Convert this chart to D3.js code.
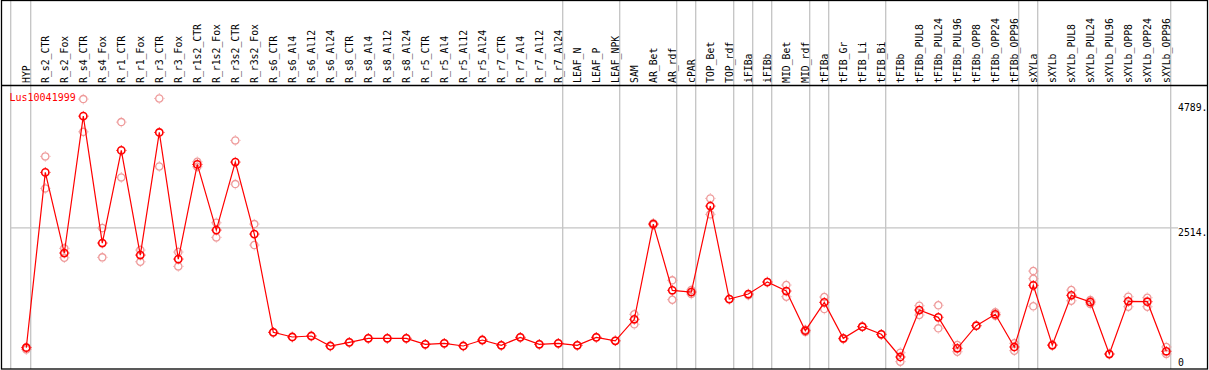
<!DOCTYPE html>
<html>
<head>
<meta charset="utf-8">
<script src="https://cdn.jsdelivr.net/npm/d3@7"></script>
<style>
  html, body { margin: 0; padding: 0; background: #fff; }
  svg { display: block; }
  text { font-family: "DejaVu Sans Mono", monospace; font-size: 9.8px; }
</style>
</head>
<body>
<svg id="chart" width="1209" height="370"></svg>
<script>
const seriesName = "Lus10041999";

const categories = [
  "HYP","R_s2_CTR","R_s2_Fox","R_s4_CTR","R_s4_Fox","R_r1_CTR","R_r1_Fox","R_r3_CTR","R_r3_Fox",
  "R_r1s2_CTR","R_r1s2_Fox","R_r3s2_CTR","R_r3s2_Fox","R_s6_CTR","R_s6_Al4","R_s6_Al12","R_s6_Al24",
  "R_s8_CTR","R_s8_Al4","R_s8_Al12","R_s8_Al24","R_r5_CTR","R_r5_Al4","R_r5_Al12","R_r5_Al24",
  "R_r7_CTR","R_r7_Al4","R_r7_Al12","R_r7_Al24","LEAF_N","LEAF_P","LEAF_NPK","SAM","AR_Bet","AR_rdf",
  "cPAR","TOP_Bet","TOP_rdf","iFIBa","iFIBb","MID_Bet","MID_rdf","tFIBa","tFIB_Gr","tFIB_Li","tFIB_Bi",
  "tFIBb","tFIBb_PUL8","tFIBb_PUL24","tFIBb_PUL96","tFIBb_OPP8","tFIBb_OPP24","tFIBb_OPP96",
  "sXYLa","sXYLb","sXYLb_PUL8","sXYLb_PUL24","sXYLb_PUL96","sXYLb_OPP8","sXYLb_OPP24","sXYLb_OPP96"
];

const means = [
  333, 3525, 2057, 4550, 2239, 3926, 2020, 4253, 1947,
  3671, 2475, 3713, 2402, 613, 528, 546, 364,
  431, 504, 504, 504, 395, 413, 364, 473,
  377, 522, 395, 413, 377, 522, 458, 850, 2584, 1378,
  1347, 2912, 1219, 1310, 1529, 1365, 643, 1159, 504, 716, 577,
  164, 1019, 886, 322, 734, 941, 346,
  1469, 377, 1287, 1165, 218, 1178, 1171, 268
];

const replicates = [
  [300, 340], [3817, 3234], [2142, 1971], [4860, 4264], [2512, 1978], [4441, 3434], [2111, 1898], [4872, 3634], [2075, 1814],
  [3718, 3627], [2608, 2342], [4108, 3312], [2584, 2202], [613], [528], [546], [364],
  [431], [504], [504], [504], [395], [413], [364], [473],
  [377], [522], [395], [413], [377], [522], [458], [941, 759], [2600, 2570], [1560, 1207],
  [1310, 1383], [3052, 2761], [1219], [1290], [1529], [1474, 1262], [660, 620], [1256, 1037], [490], [716], [577],
  [243, 79], [1098, 928], [1105, 686], [382, 260], [734], [977, 915], [413, 279],
  [1729, 1589, 1087], [390], [1383, 1188], [1201, 1128], [218], [1262, 1079], [1243, 1079], [346, 218]
];

const yTicks = [0, 2514, 4789];
const yTickLabels = ["0", "2514.", "4789."];
const groupEnds = ["HYP","R_r7_Al24","LEAF_NPK","AR_rdf","cPAR","TOP_rdf","iFIBa","iFIBb","MID_rdf","tFIBa","tFIB_Bi","tFIBb_OPP96","sXYLa","sXYLb_OPP96"];

const svg = d3.select("#chart");

const x = d3.scalePoint().domain(categories).range([26.3, 26.3 + 19 * (categories.length - 1)]);
const y = d3.scaleLinear().domain([0, 4789]).range([366, 103]);

const grey = "#c4c4c4";
const lightRed = "#ee9a9a";

// vertical group separators
const sepXs = [x(categories[0]) - 15.6].concat(groupEnds.map(c => x(c) + 4.4));
svg.append("g").selectAll("line").data(sepXs).join("line")
  .attr("x1", d => d).attr("x2", d => d).attr("y1", 0).attr("y2", 369)
  .attr("stroke", grey).attr("stroke-width", 1.3);

// horizontal mid grid line
svg.append("line")
  .attr("x1", sepXs[0]).attr("x2", 1178)
  .attr("y1", y(yTicks[1])).attr("y2", y(yTicks[1]))
  .attr("stroke", grey).attr("stroke-width", 1.3);

// frame
svg.append("rect").attr("x", 1.5).attr("y", 0.5).attr("width", 1206).attr("height", 368.5)
  .attr("fill", "none").attr("stroke", "#000").attr("stroke-width", 1.3);
svg.append("line").attr("x1", 1).attr("x2", 1208).attr("y1", 85.5).attr("y2", 85.5)
  .attr("stroke", "#000").attr("stroke-width", 1.3);

// header labels (reading upwards, starting just above the separator)
svg.append("g").selectAll("text").data(categories).join("text")
  .attr("transform", d => `translate(${x(d) + 3.6},83) rotate(-90)`)
  .attr("text-anchor", "start")
  .attr("fill", "#000")
  .text(d => d);

// y labels
svg.append("g").selectAll("text").data(yTicks).join("text")
  .attr("x", 1178)
  .attr("y", d => d === 0 ? y(d) - 0.5 : y(d) + 8.2)
  .attr("fill", "#000")
  .text((d, i) => yTickLabels[i]);

// series name
svg.append("text").attr("x", 9.5).attr("y", 100.5).attr("fill", "#ff0000").style("font-size", "10px").text(seriesName);

function marker(g, color, sw) {
  g.append("circle").attr("r", 3.6).attr("fill", "none").attr("stroke", color).attr("stroke-width", sw);
  g.append("path").attr("d", "M0,-5.2V-4.4M0,4.4V5.2M-5.2,0H-4.4M4.4,0H5.2")
    .attr("stroke", color).attr("stroke-width", 0.9);
}

// replicate markers
const repData = [];
replicates.forEach((arr, i) => arr.forEach(v => repData.push({ c: categories[i], v })));
svg.append("g").selectAll("g").data(repData).join("g")
  .attr("transform", d => `translate(${x(d.c)},${y(d.v)})`)
  .each(function () { marker(d3.select(this), lightRed, 1.3); });

// line
const line = d3.line().x((d, i) => x(categories[i])).y(d => y(d));
svg.append("path").datum(means).attr("d", line)
  .attr("fill", "none").attr("stroke", "#ff0000").attr("stroke-width", 1.2);

// mean markers
svg.append("g").selectAll("g").data(means).join("g")
  .attr("transform", (d, i) => `translate(${x(categories[i])},${y(d)})`)
  .each(function () { marker(d3.select(this), "#ff0000", 1.6); });
</script>
</body>
</html>
